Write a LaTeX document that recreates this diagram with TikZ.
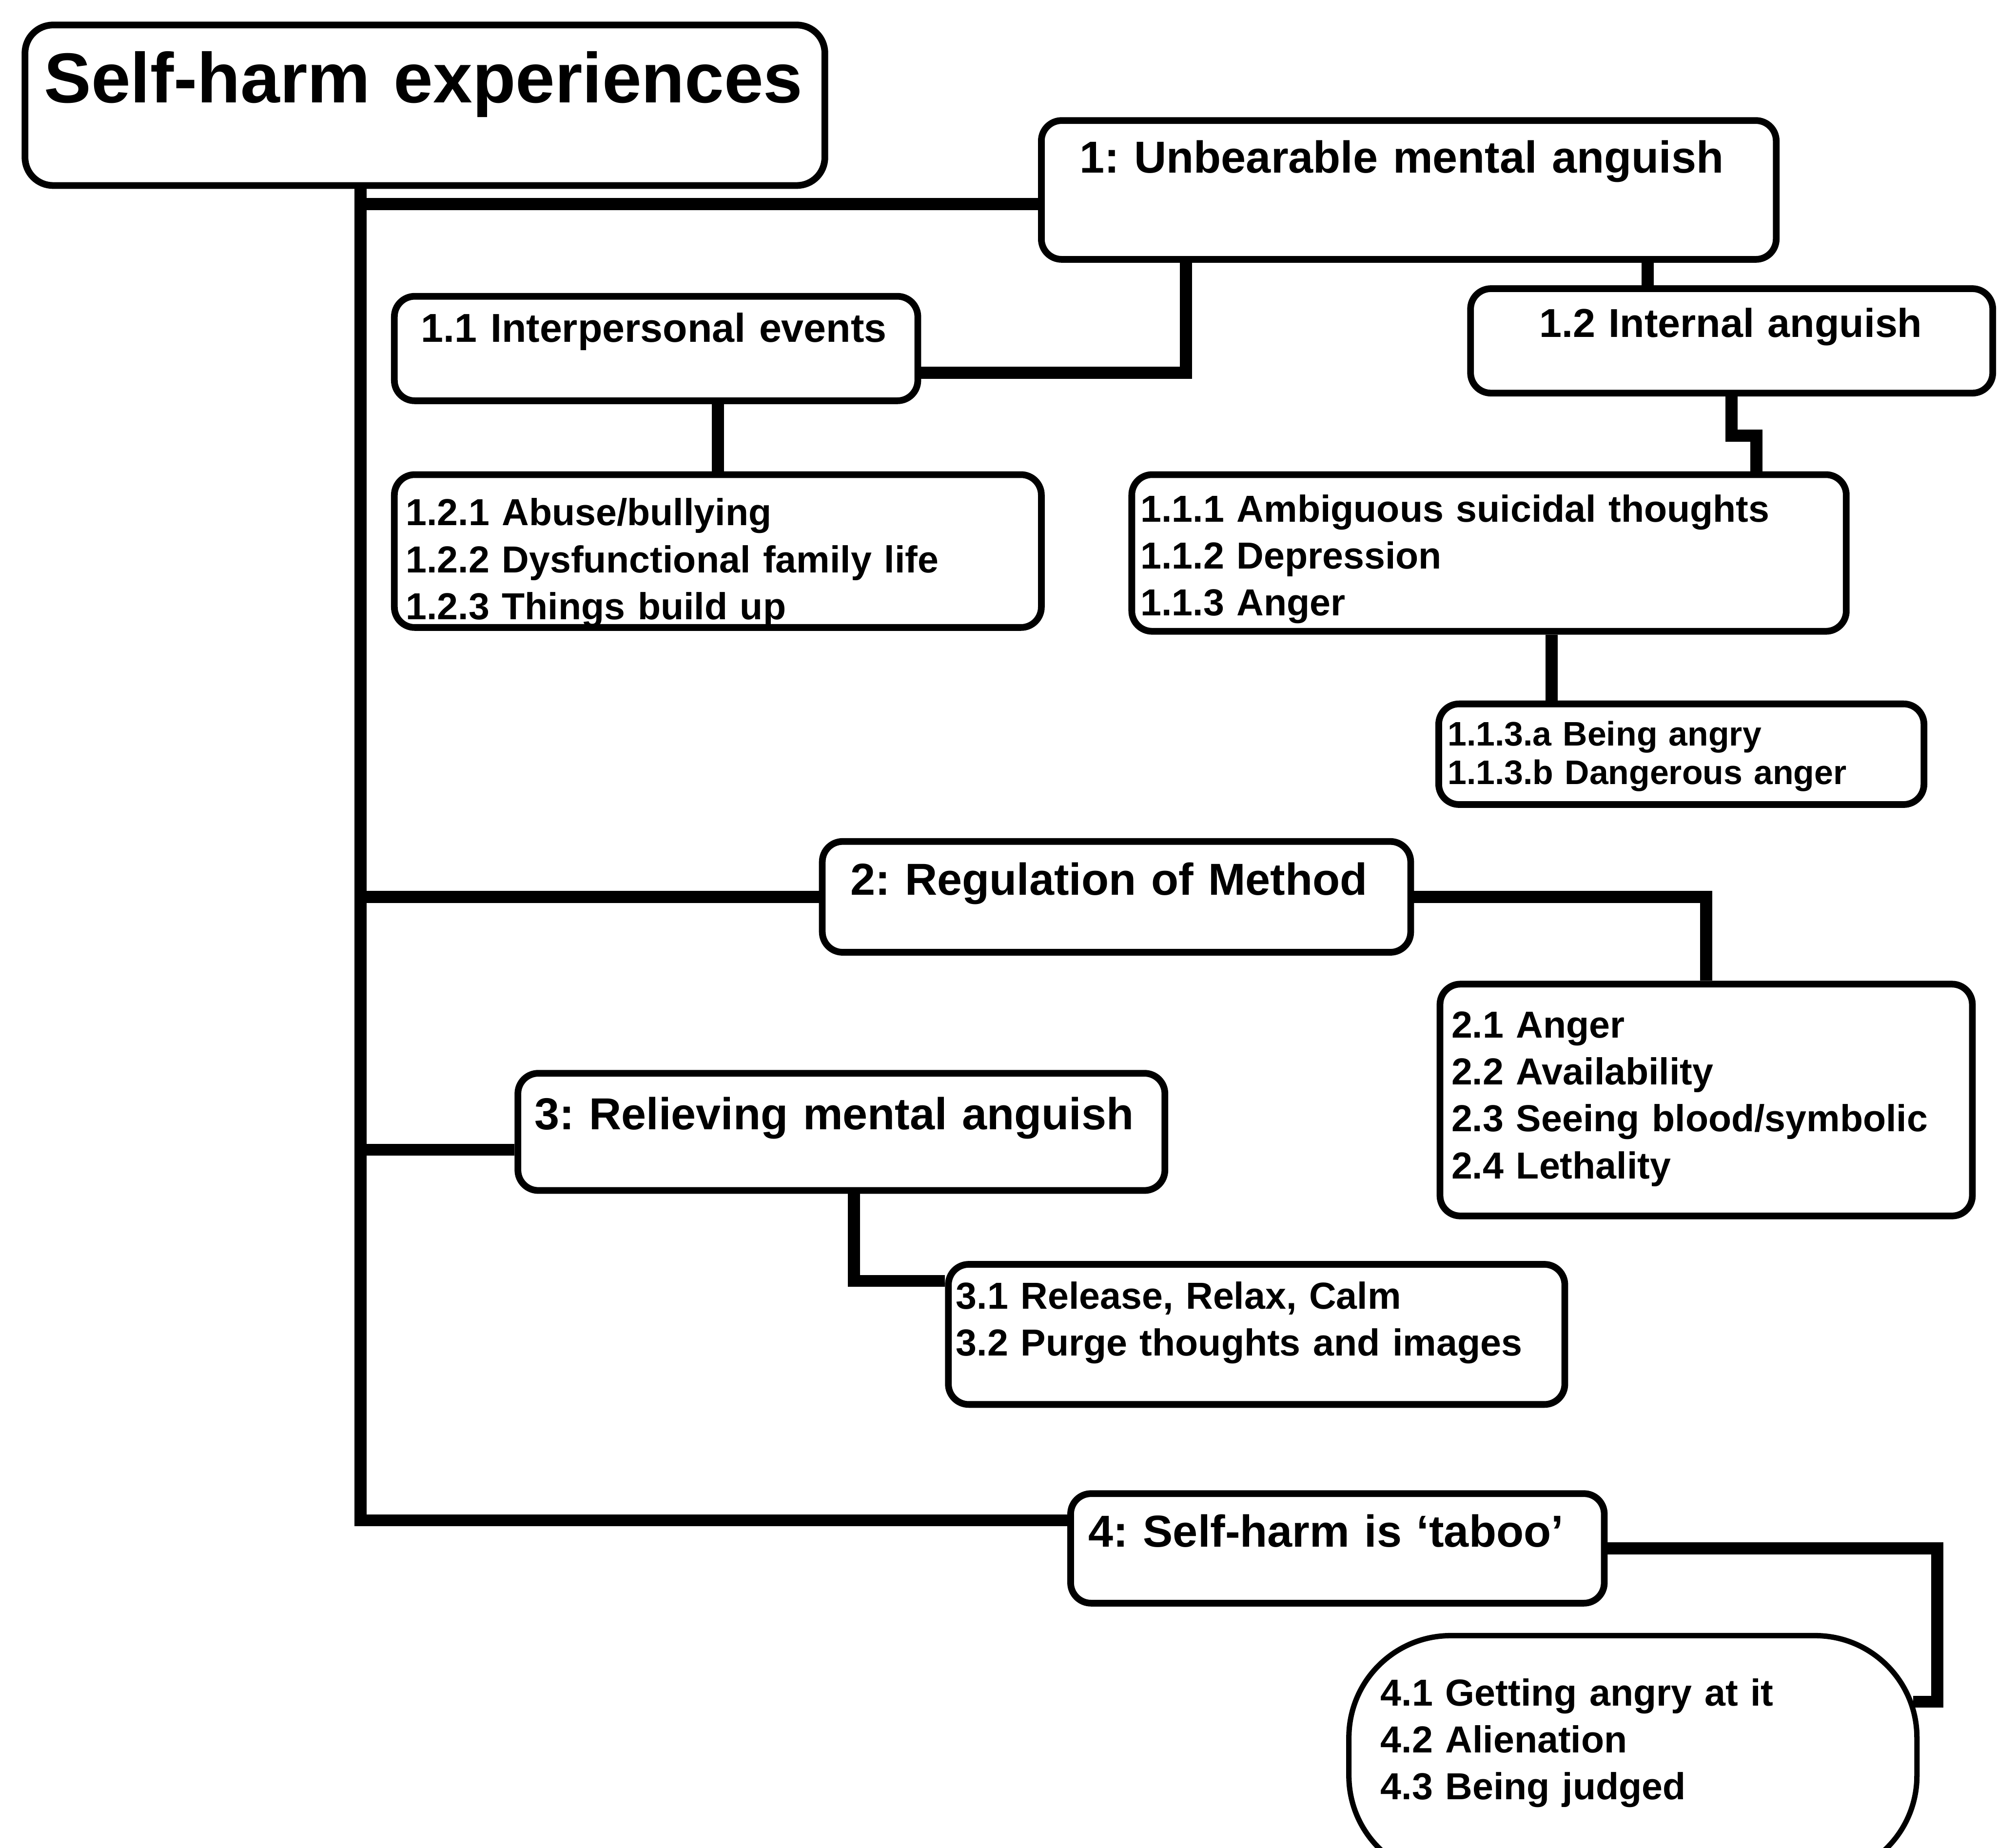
\documentclass[tikz,border=0pt]{standalone}
\usepackage{fontspec}
\setmainfont{Liberation Sans}
\frenchspacing
\usepackage{tikz}
\tikzset{
  box/.style={
    draw=black,
    line width=1.5pt,
    rounded corners=1.6mm,
    fill=white,
    anchor=north west,
    align=left,
    inner ysep=0pt
  },
  rootbox/.style={box, rounded corners=2.2mm, font=\fontsize{15.8}{19}\selectfont\bfseries},
  theme/.style={box, font=\fontsize{10}{12.5}\selectfont\bfseries},
  subtheme/.style={box, font=\fontsize{9}{11}\selectfont\bfseries},
  codes/.style={box, font=\fontsize{8.4}{10.5}\selectfont\bfseries},
  smallcodes/.style={box, font=\fontsize{7.6}{8.6}\selectfont\bfseries},
  pillbox/.style={codes, rounded corners=8mm, line width=1.2pt},
  wire/.style={line width=2.7pt, draw=black}
}

\begin{document}
\begin{tikzpicture}[x=1mm,y=1mm]
\path[use as bounding box] (0,0) rectangle (156.8,-145.06);
\fill[white] (0,0) rectangle (156.8,-145.06);

\node[rootbox, inner xsep=1.5mm, text width=59.8mm, text height=6.1mm, text depth=6.5mm] (root) at (1.7,-1.7) {Self-harm experiences};

\node[theme, inner xsep=3.0mm, text width=51.7mm, text height=4.1mm, text depth=6.8mm] (n1) at (81.5,-9.2) {1: Unbearable mental anguish};
\node[subtheme, inner xsep=2.1mm, text width=36.9mm, text height=3.6mm, text depth=4.6mm] (n11) at (30.7,-23.0) {1.1 Interpersonal events};
\node[subtheme, inner xsep=5.4mm, text width=30.2mm, text height=3.8mm, text depth=4.4mm] (n12) at (115.2,-22.4) {1.2 Internal anguish};
\node[codes, inner xsep=0.9mm, text width=49.0mm, text height=4.0mm, text depth=8.0mm] (n12list) at (30.7,-37.0)
  {1.2.1 Abuse/bullying\\1.2.2 Dysfunctional family life\\1.2.3 Things build up};
\node[codes, inner xsep=0.7mm, text width=54.7mm, text height=3.7mm, text depth=8.6mm] (n11list) at (88.6,-37.0)
  {1.1.1 Ambiguous suicidal thoughts\\1.1.2 Depression\\1.1.3 Anger};
\node[smallcodes, inner xsep=0.7mm, text width=36.7mm, text height=3.3mm, text depth=4.6mm] (n113) at (112.7,-55.0)
  {1.1.3.a Being angry\\1.1.3.b Dangerous anger};

\node[theme, inner xsep=2.2mm, text width=41.8mm, text height=4.2mm, text depth=4.5mm] (n2) at (64.3,-65.8) {2: Regulation of Method};
\node[codes, inner xsep=0.9mm, text width=40.0mm, text height=4.2mm, text depth=14.0mm] (n2list) at (112.8,-77.0)
  {2.1 Anger\\2.2 Availability\\2.3 Seeing blood/symbolic\\2.4 Lethality};

\node[theme, inner xsep=1.3mm, text width=48.2mm, text height=4.4mm, text depth=4.8mm] (n3) at (40.4,-84.0) {3: Relieving mental anguish};
\node[codes, inner xsep=0.6mm, text width=47.2mm, text height=3.5mm, text depth=7.5mm] (n3list) at (74.2,-99.0)
  {3.1 Release, Relax, Calm\\3.2 Purge thoughts and images};

\node[theme, inner xsep=1.4mm, text width=39.1mm, text height=4.2mm, text depth=4.4mm] (n4) at (83.8,-117.0) {4: Self-harm is ‘taboo’};
\node[pillbox, inner xsep=2.5mm, text width=39.6mm, text height=5.5mm, text depth=13.5mm] (n4list) at (105.7,-128.2)
  {4.1 Getting angry at it\\4.2 Alienation\\4.3 Being judged};

\coordinate (trunk) at (28.3,-14.4);
\coordinate (b1) at ([yshift=-1.1mm]n1.west);
\coordinate (b2) at (n2.west);
\coordinate (b3) at ([yshift=-1.4mm]n3.west);
\coordinate (b4) at ([yshift=2.2mm]n4.west);
\foreach \b in {b1,b2,b3,b4}
  \draw[wire] (trunk) |- (\b);

\coordinate (j12) at ([xshift=-6.6mm]n12.north);
\coordinate (j113) at ([xshift=-10.2mm]n113.north);
\coordinate (m4) at ([xshift=-0.5mm,yshift=-5.4mm]n4list.north east);

\draw[wire] ([xshift=-17.5mm]n1.south) |- ([yshift=-1.9mm]n11.east);
\draw[wire] (j12) -- (j12 |- n1.south);
\draw[wire] (n12list.north) -- (n12list.north |- n11.south);
\draw[wire] (n12.south) |- ([xshift=21mm,yshift=2.8mm]n11list.north) -- ([xshift=21mm]n11list.north);
\draw[wire] (j113) -- (j113 |- n11list.south);
\draw[wire] (n2.east) -| (n2list.north);
\draw[wire] ([xshift=1mm]n3.south) |- ([yshift=4.2mm]n3list.west);
\draw[wire] (n4.east) -| ([xshift=1.9mm]m4) -- (m4);
\end{tikzpicture}
\end{document}
